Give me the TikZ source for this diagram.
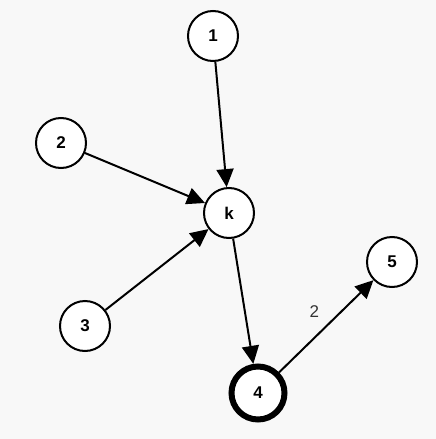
\documentclass[tikz,border=0pt]{standalone}
\usepackage{fontspec}
\setmainfont{Liberation Sans}
\usetikzlibrary{arrows.meta}
\definecolor{bg}{HTML}{F8F8F8}
\definecolor{lblc}{HTML}{333333}
\tikzset{
  vert/.style={circle, draw=black, fill=white, line width=2pt, minimum size=50pt, inner sep=0pt, font=\fontsize{17}{17}\selectfont\bfseries},
  vertthick/.style={vert, line width=6pt, minimum size=53pt},
  arc/.style={line width=2pt, -{Triangle[length=18pt,width=17pt]}},
  lbl/.style={font=\fontsize{17}{17}\selectfont, text=lblc}
}
\begin{document}
\begin{tikzpicture}[x=1pt,y=-1pt]
\fill[bg] (0,0) rectangle (436,439);
\useasboundingbox (0,0) rectangle (436,439);
\node[vert] (n1) at (213,36) {1};
\node[vert] (n2) at (61,143) {2};
\node[vert] (k) at (229,213) {k};
\node[vert] (n3) at (85,326) {3};
\node[vert] (n5) at (392,262) {5};
\node[vertthick] (n4) at (258,393) {4};
\draw[arc] (n1) -- (k);
\draw[arc] (n2) -- (k);
\draw[arc] (n3) -- (k);
\draw[arc] (k) -- (n4);
\draw[arc] (n4) -- node[lbl, pos=0.5, xshift=-12pt, yshift=15pt] {2} (n5);
\end{tikzpicture}
\end{document}
